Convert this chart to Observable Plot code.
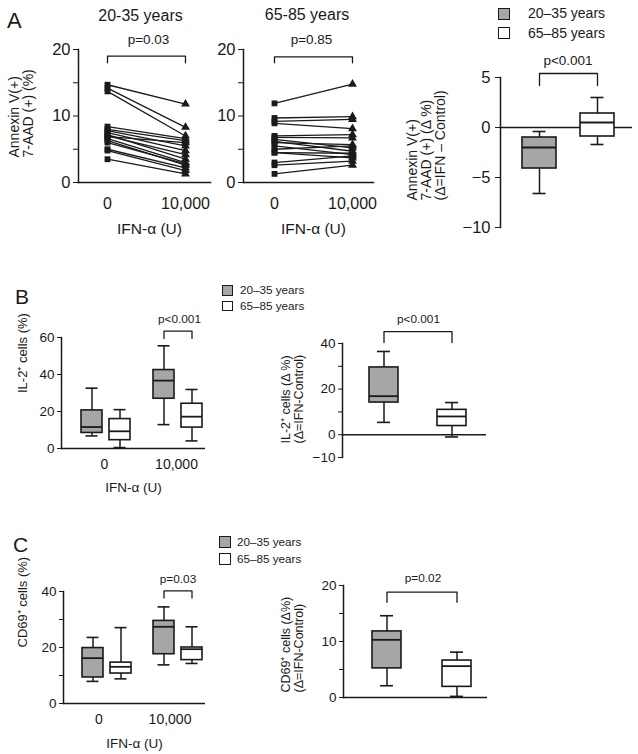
<!DOCTYPE html>
<html><head><meta charset="utf-8">
<script src="https://cdn.jsdelivr.net/npm/d3@7"></script>
<script src="https://cdn.jsdelivr.net/npm/@observablehq/plot@0.6"></script>
<style>
body{margin:0;background:#fff;}
#fig{position:relative;width:638px;height:754px;overflow:hidden;background:#fff;font-family:"Liberation Sans",Arial,Helvetica,sans-serif;color:#1a1a1a;}
#fig svg{position:absolute;left:0;top:0;overflow:visible;}
.t{position:absolute;white-space:nowrap;}
.sw{position:absolute;box-sizing:border-box;border:1.3px solid #1a1a1a;}
</style></head><body><div id="fig"></div>
<script>
// ---------------- data ----------------
const doses = ["0", "10,000"];
const ageGroups = ["20–35 years", "65–85 years"];
const pLabels = ["p=0.03", "p=0.85", "p<0.001", "p<0.001", "p<0.001", "p=0.03", "p=0.02"];

// Panel A: paired Annexin V(+) 7-AAD(+) %, control vs IFN-α
const youngCtrl = [14.7, 14.2, 13.7, 8.4, 8.0, 7.8, 7.5, 7.2, 7.0, 6.9, 6.6, 6.3, 6.0, 5.0, 4.8, 3.5];
const youngIFN  = [11.8, 8.3, 7.0, 6.6, 6.3, 5.5, 4.8, 3.5, 4.2, 6.0, 3.0, 2.6, 2.8, 2.2, 1.8, 1.3];
const oldCtrl   = [11.9, 9.7, 9.2, 8.9, 7.0, 6.8, 6.5, 6.2, 6.0, 5.5, 5.0, 4.5, 4.5, 3.0, 2.6, 1.3];
const oldIFN    = [14.8, 9.9, 9.5, 8.1, 7.2, 6.7, 5.2, 4.7, 5.7, 4.2, 5.5, 4.4, 3.7, 4.0, 3.2, 2.6];

// box stats: [min, q1, median, q3, max]
const annexinDeltaYoung = [-6.6, -4.1, -2.0, -1.0, -0.4];
const annexinDeltaOld   = [-1.7, -0.9, 0.5, 1.4, 3.0];
const il2Young0   = [6.8, 8.4, 11.6, 20.6, 32.6];
const il2Old0     = [0.5, 4.5, 9.3, 15.9, 21.0];
const il2Young10k = [12.9, 26.9, 36.7, 42.4, 55.5];
const il2Old10k   = [4.1, 11.3, 17.2, 24.2, 31.9];
const il2DeltaYoung = [5.4, 14.1, 16.9, 29.5, 36.5];
const il2DeltaOld   = [-1.0, 3.8, 8.0, 10.9, 14.1];
const cd69Young0   = [7.9, 9.3, 16.2, 19.8, 23.6];
const cd69Old0     = [8.8, 10.7, 13.1, 14.6, 27.1];
const cd69Young10k = [13.8, 17.6, 27.4, 29.5, 34.5];
const cd69Old10k   = [14.3, 15.5, 19.4, 20.0, 27.4];
const cd69DeltaYoung = [2.1, 5.2, 10.3, 11.8, 14.6];
const cd69DeltaOld   = [0.2, 1.9, 5.6, 6.6, 8.1];

// significance bracket levels [leg end, bar, label]
const bracketA1 = [18, 19, 20.9];
const bracketA2 = [18, 18.9, 20.9];
const bracketA3 = [4.2, 5.4, 6.3];
const bracketBL = [59.5, 63.4, 67.7];
const bracketBR = [40.4, 45.2, 49.2];
const bracketCL = [37.7, 40.2, 42.9];
const bracketCR = [17.0, 18.8, 20.6];

// ---------------- helpers ----------------
const W = 638, H = 754;
const INK = "#1a1a1a";
const GRAY = "#a6a6a6";
const FONT = '"Liberation Sans", Arial, Helvetica, sans-serif';
const fig = document.getElementById("fig");
const layout = (l, r, t, b) => ({width: W, height: H, marginLeft: l, marginRight: W - r, marginTop: t, marginBottom: H - b});
const svgStyle = fs => ({background: "transparent", overflow: "visible", fontFamily: FONT, fontSize: fs + "px", color: INK});
const colorScale = {domain: ageGroups, range: [GRAY, "#ffffff"]};
const stat = (s, extra) => ({...extra, min: s[0], q1: s[1], med: s[2], q3: s[3], max: s[4]});

function boxMarks(rows, capInset, fx) {
  const f = fx ? {fx: "dose"} : {};
  return [
    Plot.ruleX(rows, {...f, x: "group", y1: "min", y2: "max", stroke: INK, strokeWidth: 1.5}),
    Plot.barY(rows, {...f, x: "group", y1: "q1", y2: "q3", fill: "group", stroke: INK, strokeWidth: 1.6}),
    Plot.tickY(rows, {...f, x: "group", y: "med", stroke: INK, strokeWidth: 1.8}),
    Plot.tickY(rows, {...f, x: "group", y: "min", stroke: INK, strokeWidth: 1.6, insetLeft: capInset, insetRight: capInset}),
    Plot.tickY(rows, {...f, x: "group", y: "max", stroke: INK, strokeWidth: 1.6, insetLeft: capInset, insetRight: capInset})
  ];
}

function pairedPlot({ctrl, ifn, title, p, frame: [l, r, t, b], bracket, xPad, xAlign, titleDx, titleDy, pDx, ylabel}) {
  const rows = ctrl.flatMap((v, i) => [
    {subject: i, dose: doses[0], value: v},
    {subject: i, dose: doses[1], value: ifn[i]}
  ]);
  const br = [
    {dose: doses[0], y: bracket[0]}, {dose: doses[0], y: bracket[1]},
    {dose: doses[1], y: bracket[1]}, {dose: doses[1], y: bracket[0]}
  ];
  return Plot.plot({
    ...layout(l, r, t, b),
    style: svgStyle(16.5),
    x: {type: "point", domain: doses, padding: xPad, align: xAlign},
    y: {domain: [0, 20]},
    symbol: {domain: doses, range: ["square", "triangle"]},
    marks: [
      Plot.frame({anchor: "left", stroke: INK, strokeWidth: 1.5}),
      Plot.frame({anchor: "bottom", stroke: INK, strokeWidth: 1.5}),
      Plot.axisY({ticks: [0, 10, 20], tickSize: 5, tickPadding: 3, label: null, fontSize: 16.5}),
      Plot.axisY({ticks: [5, 15], tickSize: 5, tickFormat: () => "", label: null}),
      Plot.axisX({tickSize: 0, tickPadding: 15, label: null, fontSize: 16}),
      Plot.line(rows, {x: "dose", y: "value", z: "subject", stroke: INK, strokeWidth: 1.3}),
      Plot.dot(rows, {x: "dose", y: "value", symbol: "dose", fill: INK, r: 3.3}),
      Plot.line(br, {x: "dose", y: "y", stroke: INK, strokeWidth: 1.3}),
      Plot.text([{label: p, y: bracket[2]}], {y: "y", text: "label", lineAnchor: "bottom", fontSize: 13.5, dx: pDx}),
      Plot.text([title], {frameAnchor: "top", dy: titleDy, dx: titleDx, lineAnchor: "bottom", fontSize: 16}),
      Plot.text(["IFN-α (U)"], {frameAnchor: "bottom", dy: 51, dx: 5, lineAnchor: "bottom", fontSize: 15.5}),
      ylabel ? Plot.text([ylabel], {frameAnchor: "bottom-left", rotate: -90, textAnchor: "start", dx: -46, dy: -25, lineHeight: 1.0, fontSize: 14}) : null
    ]
  });
}

function deltaPlot({young, old, frame: [l, r, t, b], domain, ticks, minor, xs, capInset, bracket, p, pDx, pSize, ylabel, labelDx, labelDy, labelSize, lineHeight, tickSize, tickFont, tickPadding}) {
  const rows = [stat(young, {group: ageGroups[0]}), stat(old, {group: ageGroups[1]})];
  const br = [
    {group: ageGroups[0], y: bracket[0]}, {group: ageGroups[0], y: bracket[1]},
    {group: ageGroups[1], y: bracket[1]}, {group: ageGroups[1], y: bracket[0]}
  ];
  return Plot.plot({
    ...layout(l, r, t, b),
    style: svgStyle(tickFont),
    x: {domain: ageGroups, axis: null, ...xs},
    y: {domain},
    color: colorScale,
    marks: [
      Plot.frame({anchor: "left", stroke: INK, strokeWidth: 1.5}),
      Plot.ruleY([0], {stroke: INK, strokeWidth: 1.5}),
      Plot.axisY({ticks, tickSize, tickPadding, label: null, fontSize: tickFont}),
      minor ? Plot.axisY({ticks: minor, tickSize, tickFormat: () => "", label: null}) : null,
      ...boxMarks(rows, capInset, false),
      Plot.line(br, {x: "group", y: "y", stroke: INK, strokeWidth: 1.3}),
      Plot.text([{label: p, y: bracket[2]}], {y: "y", text: "label", lineAnchor: "bottom", fontSize: pSize, dx: pDx}),
      Plot.text([ylabel], {frameAnchor: "bottom-left", rotate: -90, textAnchor: "start", dx: labelDx, dy: labelDy, lineHeight, fontSize: labelSize})
    ]
  });
}

function groupPlot({sets, frame: [l, r, t, b], domain, ticks, minor, bracket, p, pDx, fxDx, ylabel, labelDx, labelOffset}) {
  const rows = [];
  doses.forEach((d, i) => ageGroups.forEach((g, j) => rows.push(stat(sets[i][j], {dose: d, group: g}))));
  const br = [
    {dose: doses[1], group: ageGroups[0], y: bracket[0]}, {dose: doses[1], group: ageGroups[0], y: bracket[1]},
    {dose: doses[1], group: ageGroups[1], y: bracket[1]}, {dose: doses[1], group: ageGroups[1], y: bracket[0]}
  ];
  return Plot.plot({
    ...layout(l, r, t, b),
    style: svgStyle(13.5),
    fx: {domain: doses, padding: 0},
    x: {domain: ageGroups, axis: null, paddingInner: 0.24, paddingOuter: 0.37, align: 0.88},
    y: {domain},
    color: colorScale,
    marks: [
      Plot.frame({anchor: "left", facetAnchor: "left", stroke: INK, strokeWidth: 1.5}),
      Plot.ruleY([0], {stroke: INK, strokeWidth: 1.5}),
      Plot.axisY({ticks, tickSize: 4, tickPadding: 3, label: null, fontSize: 13.5}),
      minor ? Plot.axisY({ticks: minor, tickSize: 4, tickFormat: () => "", label: null}) : null,
      Plot.axisFx({anchor: "bottom", tickSize: 0, tickPadding: 11, fontSize: 14, dx: fxDx, label: null}),
      Plot.axisFx({anchor: "bottom", ticks: [], tickSize: 0, label: "IFN-α (U)", labelAnchor: "center", labelOffset, fontSize: 13.5}),
      ...boxMarks(rows, 4.5, true),
      Plot.line(br, {fx: "dose", x: "group", y: "y", stroke: INK, strokeWidth: 1.3}),
      Plot.text([{dose: doses[1], label: p, y: bracket[2]}], {fx: "dose", y: "y", text: "label", lineAnchor: "bottom", fontSize: 11.8, dx: pDx}),
      Plot.text([{dose: doses[0], label: ylabel}], {fx: "dose", text: "label", frameAnchor: "left", rotate: -90, dx: labelDx, fontSize: 13})
    ]
  });
}

function htmlText(text, x, baseline, size, anchor = "start") {
  const d = document.createElement("div");
  d.className = "t";
  d.textContent = text;
  d.style.fontSize = size + "px";
  d.style.lineHeight = size + "px";
  d.style.top = (baseline - 0.8465 * size) + "px";
  d.style.left = x + "px";
  if (anchor === "middle") d.style.transform = "translateX(-50%)";
  fig.appendChild(d);
}
function swatch(x, y, s, color) {
  const d = document.createElement("div");
  d.className = "sw";
  Object.assign(d.style, {left: x + "px", top: y + "px", width: s + "px", height: s + "px", background: color});
  fig.appendChild(d);
}
function legend(x, y, s, gap, tx, baselines, size) {
  ageGroups.forEach((g, i) => {
    swatch(x, y + i * gap, s, colorScale.range[i]);
    htmlText(g, tx, baselines[i], size);
  });
}

// ---------------- panels ----------------
fig.appendChild(pairedPlot({
  ctrl: youngCtrl, ifn: youngIFN, title: "20-35 years", p: pLabels[0],
  frame: [78, 210, 49, 182], bracket: bracketA1, xPad: 0.346, xAlign: 0.54,
  titleDx: -4, titleDy: -29, pDx: 4, ylabel: "Annexin V(+)\n7-AAD (+) (%)"
}));
fig.appendChild(pairedPlot({
  ctrl: oldCtrl, ifn: oldIFN, title: "65-85 years", p: pLabels[1],
  frame: [243, 373, 49, 182], bracket: bracketA2, xPad: 0.333, xAlign: 0.6,
  titleDx: -1.5, titleDy: -30, pDx: 3, ylabel: null
}));
fig.appendChild(deltaPlot({
  young: annexinDeltaYoung, old: annexinDeltaOld, frame: [500, 632, 77, 227],
  domain: [-10, 5], ticks: [-10, -5, 0, 5], minor: null,
  xs: {paddingInner: 0.42, paddingOuter: 0.33, align: 0.54}, capInset: 10.5,
  bracket: bracketA3, p: pLabels[2], pDx: 1.5, pSize: 13.5,
  ylabel: "Annexin V(+)\n7-AAD (+) (Δ %)\n(Δ=IFN – Control)", labelDx: -56, labelDy: -27,
  labelSize: 14, lineHeight: 0.97, tickSize: 5, tickFont: 16.5, tickPadding: 5
}));
fig.appendChild(groupPlot({
  sets: [[il2Young0, il2Old0], [il2Young10k, il2Old10k]], frame: [60, 205, 337, 448],
  domain: [0, 60], ticks: [0, 20, 40, 60], minor: null,
  bracket: bracketBL, p: pLabels[3], pDx: 10, fxDx: 7,
  ylabel: "IL-2⁺ cells (%)", labelDx: -39, labelOffset: 43
}));
fig.appendChild(deltaPlot({
  young: il2DeltaYoung, old: il2DeltaOld, frame: [342, 486, 343, 457],
  domain: [-10, 40], ticks: [-10, 0, 20, 40], minor: [10, 30],
  xs: {paddingInner: 0.574, paddingOuter: 0.345, align: 0.57}, capInset: 8,
  bracket: bracketBR, p: pLabels[4], pDx: 4, pSize: 11.8,
  ylabel: "IL-2⁺ cells (Δ %)\n(Δ=IFN-Control)", labelDx: -40, labelDy: -14,
  labelSize: 12.5, lineHeight: 1.0, tickSize: 4, tickFont: 13.5, tickPadding: 3
}));
fig.appendChild(groupPlot({
  sets: [[cd69Young0, cd69Old0], [cd69Young10k, cd69Old10k]], frame: [62, 205, 591, 703],
  domain: [0, 40], ticks: [0, 20, 40], minor: [10, 30],
  bracket: bracketCL, p: pLabels[5], pDx: 8, fxDx: 0,
  ylabel: "CD69⁺ cells (%)", labelDx: -41, labelOffset: 44
}));
fig.appendChild(deltaPlot({
  young: cd69DeltaYoung, old: cd69DeltaOld, frame: [343, 487, 585, 697],
  domain: [0, 20], ticks: [0, 10, 20], minor: [5, 15],
  xs: {paddingInner: 0.59, paddingOuter: 0.316, align: 0.65}, capInset: 8,
  bracket: bracketCR, p: pLabels[6], pDx: 7.5, pSize: 11.8,
  ylabel: "CD69⁺ cells (Δ%)\n(Δ=IFN-Control)", labelDx: -41, labelDy: -5,
  labelSize: 12.5, lineHeight: 1.0, tickSize: 4, tickFont: 13.5, tickPadding: 3
}));

// ---------------- panel letters & legends ----------------
htmlText("A", 7, 28.3, 22);
htmlText("B", 15, 304, 21);
htmlText("C", 13, 551.7, 21);
legend(498, 8, 12, 18.5, 528, [18.3, 37.5], 14);
legend(222, 285, 10.5, 15.7, 240, [293.5, 309.5], 11.7);
legend(219, 536, 11.5, 17, 237, [545.5, 562.5], 11.7);
</script></body></html>
